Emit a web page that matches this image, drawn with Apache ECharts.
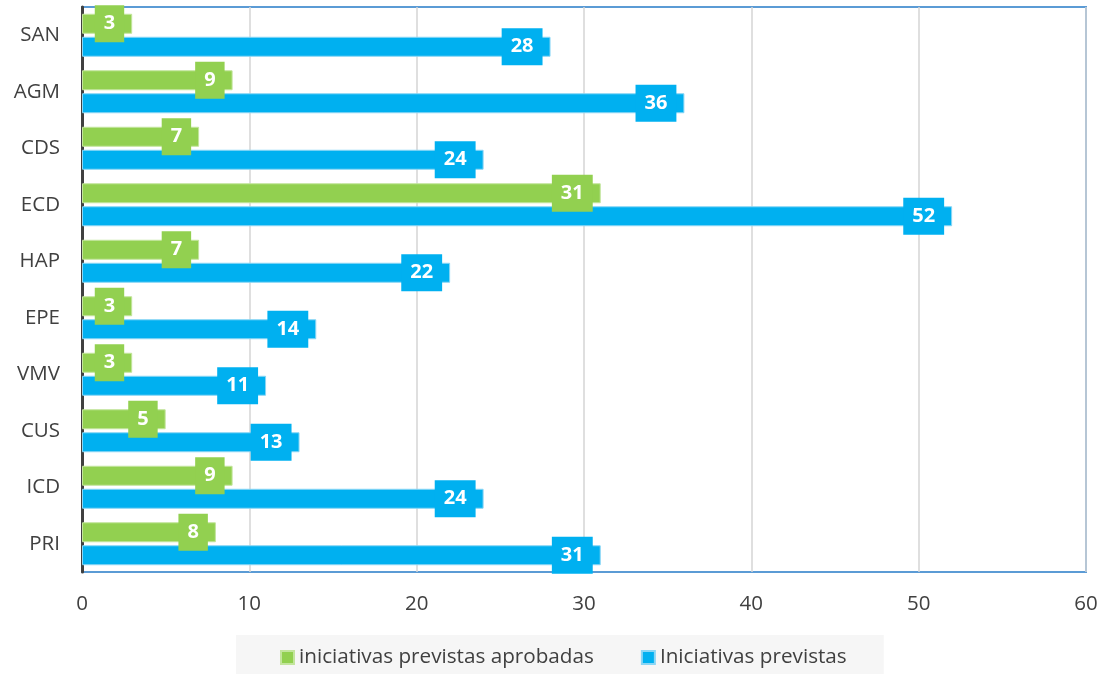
<!DOCTYPE html>
<html>
<head>
<meta charset="utf-8">
<script src="https://cdn.jsdelivr.net/npm/echarts@6/dist/echarts.min.js"></script>
<style>html,body{margin:0;padding:0;background:#fff}#c{width:1104px;height:674px}</style>
</head>
<body>
<div id="c"></div>
<script>
const categories = ['SAN','AGM','CDS','ECD','HAP','EPE','VMV','CUS','ICD','PRI'];
const aprobadas = [3,9,7,31,7,3,3,5,9,8];
const previstas = [28,36,24,52,22,14,11,13,24,31];
const xTicks = [0,10,20,30,40,50,60];
const seriesNames = ['iniciativas previstas aprobadas','Iniciativas previstas'];

const font = 'Open Sans';
function lbl(color){
  return {show:true,position:'insideRight',distance:8,color:'#fff',fontFamily:font,fontWeight:'bold',fontSize:20,
    backgroundColor:color,padding:[9,9,8,9],lineHeight:20};
}
const chart = echarts.init(document.getElementById('c'));
chart.setOption({
  animation:false,
  grid:{left:82,right:18,top:7,bottom:102,show:true,borderColor:'#5B9BD5',borderWidth:2,backgroundColor:'transparent'},
  legend:{data:seriesNames,top:635,left:236,padding:[12,37,14,44],backgroundColor:'#f6f6f6',itemGap:47,
    itemWidth:13,itemHeight:13,icon:'rect',textStyle:{fontFamily:font,fontSize:20.7,color:'#404040'}},
  xAxis:{type:'value',min:xTicks[0],max:xTicks[xTicks.length-1],interval:10,
    axisLine:{show:false},axisTick:{show:false},
    axisLabel:{fontFamily:font,fontSize:20.5,color:'#404040',margin:22},
    splitLine:{lineStyle:{color:'#d4d4d4',width:1.5}}},
  yAxis:{type:'category',data:categories,inverse:true,
    axisLine:{show:true,lineStyle:{color:'#404040',width:3}},axisTick:{show:false},
    axisLabel:{fontFamily:font,fontSize:20.5,color:'#404040',margin:22}},
  series:[
    {name:seriesNames[0],type:'bar',data:aprobadas,barWidth:20,barGap:'15%',
      itemStyle:{color:'#92D050',borderColor:'#c3e59d',borderWidth:1},label:lbl('#92D050')},
    {name:seriesNames[1],type:'bar',data:previstas,barWidth:20,barGap:'15%',
      itemStyle:{color:'#00B0F0',borderColor:'#8ad6f5',borderWidth:1},label:lbl('#00B0F0')}
  ]
});
</script>
</body>
</html>
